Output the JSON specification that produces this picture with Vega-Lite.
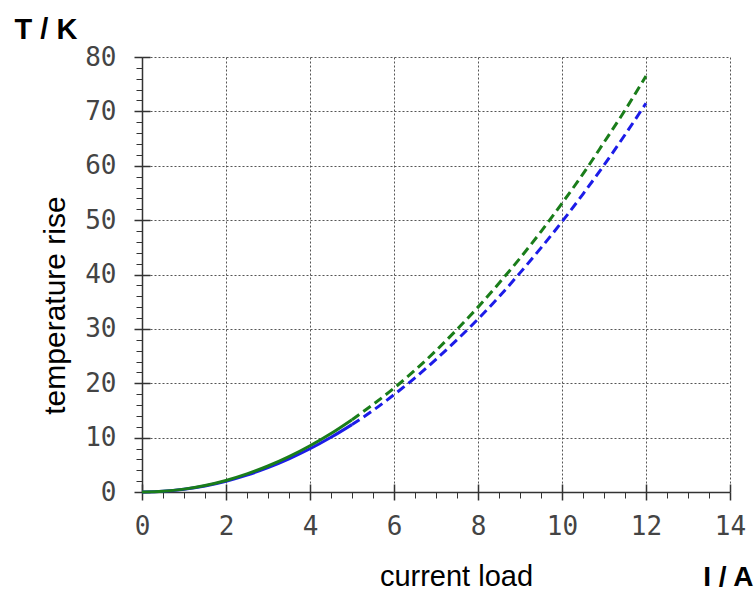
{
  "$schema": "https://vega.github.io/schema/vega-lite/v6.json",
  "width": 588,
  "height": 435,
  "autosize": "none",
  "padding": {"left": 142, "top": 57, "right": 26, "bottom": 100},
  "background": "white",
  "config": {
    "view": {"stroke": null},
    "axis": {
      "labelFont": "DejaVu Sans Mono",
      "labelFontSize": 26,
      "labelColor": "#444444",
      "titleFont": "Liberation Sans",
      "titleColor": "black",
      "tickColor": "#333333",
      "domainColor": "#333333",
      "gridColor": "#555555",
      "gridDash": [2, 2],
      "gridWidth": 1
    }
  },
  "data": {
    "values": [
      {"I": 0, "T": 0, "s": "blue", "seg": "solid"},
      {"I": 0.5, "T": 0.12, "s": "blue", "seg": "solid"},
      {"I": 1, "T": 0.5, "s": "blue", "seg": "solid"},
      {"I": 1.5, "T": 1.12, "s": "blue", "seg": "solid"},
      {"I": 2, "T": 1.99, "s": "blue", "seg": "solid"},
      {"I": 2.5, "T": 3.11, "s": "blue", "seg": "solid"},
      {"I": 3, "T": 4.47, "s": "blue", "seg": "solid"},
      {"I": 3.5, "T": 6.09, "s": "blue", "seg": "solid"},
      {"I": 4, "T": 7.95, "s": "blue", "seg": "solid"},
      {"I": 4.5, "T": 10.06, "s": "blue", "seg": "solid"},
      {"I": 5, "T": 12.4, "s": "blue", "seg": "solid"},
      {"I": 0, "T": 0, "s": "green", "seg": "solid"},
      {"I": 0.5, "T": 0.13, "s": "green", "seg": "solid"},
      {"I": 1, "T": 0.53, "s": "green", "seg": "solid"},
      {"I": 1.5, "T": 1.19, "s": "green", "seg": "solid"},
      {"I": 2, "T": 2.12, "s": "green", "seg": "solid"},
      {"I": 2.5, "T": 3.32, "s": "green", "seg": "solid"},
      {"I": 3, "T": 4.78, "s": "green", "seg": "solid"},
      {"I": 3.5, "T": 6.5, "s": "green", "seg": "solid"},
      {"I": 4, "T": 8.5, "s": "green", "seg": "solid"},
      {"I": 4.5, "T": 10.75, "s": "green", "seg": "solid"},
      {"I": 5, "T": 13.3, "s": "green", "seg": "solid"},
      {"I": 5, "T": 12.4, "s": "blue", "seg": "dashed"},
      {"I": 5.5, "T": 15.0, "s": "blue", "seg": "dashed"},
      {"I": 6, "T": 17.9, "s": "blue", "seg": "dashed"},
      {"I": 6.5, "T": 21.0, "s": "blue", "seg": "dashed"},
      {"I": 7, "T": 24.4, "s": "blue", "seg": "dashed"},
      {"I": 7.5, "T": 28.0, "s": "blue", "seg": "dashed"},
      {"I": 8, "T": 31.8, "s": "blue", "seg": "dashed"},
      {"I": 8.5, "T": 35.9, "s": "blue", "seg": "dashed"},
      {"I": 9, "T": 40.3, "s": "blue", "seg": "dashed"},
      {"I": 9.5, "T": 44.9, "s": "blue", "seg": "dashed"},
      {"I": 10, "T": 49.7, "s": "blue", "seg": "dashed"},
      {"I": 10.5, "T": 54.8, "s": "blue", "seg": "dashed"},
      {"I": 11, "T": 60.1, "s": "blue", "seg": "dashed"},
      {"I": 11.5, "T": 65.7, "s": "blue", "seg": "dashed"},
      {"I": 12, "T": 71.5, "s": "blue", "seg": "dashed"},
      {"I": 5, "T": 13.3, "s": "green", "seg": "dashed"},
      {"I": 5.5, "T": 16.1, "s": "green", "seg": "dashed"},
      {"I": 6, "T": 19.1, "s": "green", "seg": "dashed"},
      {"I": 6.5, "T": 22.4, "s": "green", "seg": "dashed"},
      {"I": 7, "T": 26.0, "s": "green", "seg": "dashed"},
      {"I": 7.5, "T": 29.9, "s": "green", "seg": "dashed"},
      {"I": 8, "T": 34.0, "s": "green", "seg": "dashed"},
      {"I": 8.5, "T": 38.4, "s": "green", "seg": "dashed"},
      {"I": 9, "T": 43.0, "s": "green", "seg": "dashed"},
      {"I": 9.5, "T": 47.9, "s": "green", "seg": "dashed"},
      {"I": 10, "T": 53.1, "s": "green", "seg": "dashed"},
      {"I": 10.5, "T": 58.5, "s": "green", "seg": "dashed"},
      {"I": 11, "T": 64.3, "s": "green", "seg": "dashed"},
      {"I": 11.5, "T": 70.2, "s": "green", "seg": "dashed"},
      {"I": 12, "T": 76.5, "s": "green", "seg": "dashed"}
    ]
  },
  "layer": [
    {
      "transform": [{"filter": "datum.seg === 'solid'"}],
      "mark": {"type": "line", "strokeOpacity": 0},
      "encoding": {
        "x": {
          "field": "I", "type": "quantitative",
          "axis": {
            "orient": "bottom",
            "values": [0, 2, 4, 6, 8, 10, 12, 14],
            "grid": false, "domain": false, "labels": false, "title": null,
            "tickSize": -8, "tickWidth": 1.5
          }
        },
        "y": {
          "field": "T", "type": "quantitative",
          "axis": {
            "orient": "left",
            "values": [0, 10, 20, 30, 40, 50, 60, 70, 80],
            "grid": false, "domain": false, "labels": false, "title": null,
            "tickSize": -8, "tickWidth": 1.5
          }
        },
        "detail": {"field": "s", "type": "nominal"}
      }
    },
    {
      "transform": [{"filter": "datum.seg === 'solid'"}],
      "mark": {"type": "line", "strokeWidth": 3, "interpolate": "monotone"},
      "encoding": {
        "x": {
          "field": "I", "type": "quantitative",
          "scale": {"domain": [0, 14], "nice": false, "zero": false},
          "axis": {
            "orient": "bottom",
            "values": [0, 2, 4, 6, 8, 10, 12, 14],
            "grid": true,
            "domainWidth": 1.5,
            "tickSize": 8,
            "tickWidth": 1.5,
            "labelPadding": 13,
            "labelFlush": false,
            "title": "current load",
            "titleFontSize": 29,
            "titleFontWeight": "normal",
            "titleAlign": "center",
            "titleBaseline": "alphabetic",
            "titleX": 314,
            "titleY": 93
          }
        },
        "y": {
          "field": "T", "type": "quantitative",
          "scale": {"domain": [0, 80], "nice": false},
          "axis": {
            "orient": "left",
            "values": [0, 10, 20, 30, 40, 50, 60, 70, 80],
            "grid": true,
            "domainWidth": 1.5,
            "tickSize": 8,
            "tickWidth": 1.5,
            "labelPadding": 18,
            "labelFlush": false,
            "title": "temperature rise",
            "titleFontSize": 30,
            "titleFontWeight": "normal",
            "titleAngle": -90,
            "titleAlign": "center",
            "titleBaseline": "middle",
            "titleX": -87,
            "titleY": 248
          }
        },
        "color": {
          "field": "s", "type": "nominal",
          "scale": {"domain": ["blue", "green"], "range": ["#1c1ce8", "#1a7d1a"]},
          "legend": null
        }
      }
    },
    {
      "transform": [{"filter": "datum.seg === 'dashed'"}],
      "mark": {"type": "line", "strokeWidth": 3, "strokeDash": [9, 5], "interpolate": "monotone"},
      "encoding": {
        "x": {
          "field": "I", "type": "quantitative",
          "axis": {
            "orient": "bottom",
            "values": [0.5, 1, 1.5, 2.5, 3, 3.5, 4.5, 5, 5.5, 6.5, 7, 7.5, 8.5, 9, 9.5, 10.5, 11, 11.5, 12.5, 13, 13.5],
            "grid": false,
            "domain": false,
            "labels": false,
            "tickSize": 6,
            "tickWidth": 1,
            "title": "I / A",
            "titleFontSize": 28,
            "titleFontWeight": "bold",
            "titleAlign": "right",
            "titleBaseline": "alphabetic",
            "titleX": 611,
            "titleY": 93
          }
        },
        "y": {
          "field": "T", "type": "quantitative",
          "axis": {
            "orient": "left",
            "values": [2, 4, 6, 8, 12, 14, 16, 18, 22, 24, 26, 28, 32, 34, 36, 38, 42, 44, 46, 48, 52, 54, 56, 58, 62, 64, 66, 68, 72, 74, 76, 78],
            "grid": false,
            "domain": false,
            "labels": false,
            "tickSize": 6,
            "tickWidth": 1,
            "title": "T / K",
            "titleFontSize": 29,
            "titleFontWeight": "bold",
            "titleAngle": 0,
            "titleAlign": "left",
            "titleBaseline": "alphabetic",
            "titleX": -128,
            "titleY": -19
          }
        },
        "color": {
          "field": "s", "type": "nominal",
          "legend": null
        }
      }
    }
  ],
  "resolve": {"axis": {"x": "independent", "y": "independent"}}
}
